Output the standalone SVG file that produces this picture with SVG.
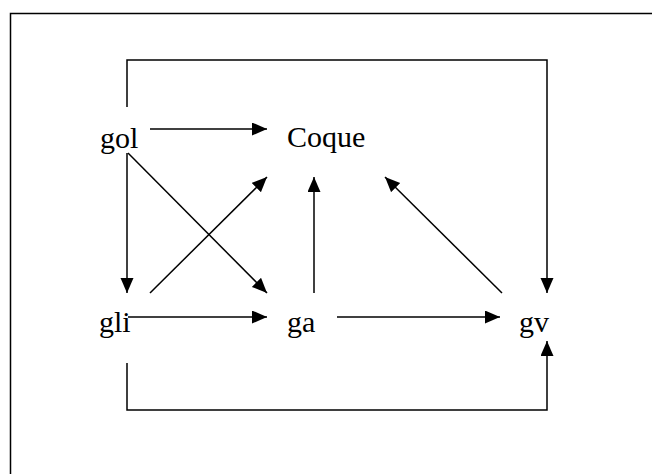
<svg xmlns="http://www.w3.org/2000/svg" width="652" height="474" viewBox="0 0 652 474">
<style>
.lbl{font-family:"Liberation Serif","Times New Roman",serif;font-size:30px;fill:#000}
.c{fill:none;stroke:#000;stroke-width:1.5}
</style>
<defs>
<marker id="ah" markerUnits="userSpaceOnUse" markerWidth="16" markerHeight="14" refX="15" refY="6.5" orient="auto">
<path d="M0,0 L15,6.5 L0,13 z" fill="#000"/>
</marker>
</defs>
<rect x="10.5" y="13.5" width="660" height="480" fill="#fff" stroke="#000" stroke-width="1.5"/>
<g id="connectors">
<line class="c" x1="150" y1="129" x2="267" y2="129" marker-end="url(#ah)"/>
<line class="c" x1="127" y1="153" x2="127" y2="293" marker-end="url(#ah)"/>
<line class="c" x1="128" y1="153" x2="267" y2="293" marker-end="url(#ah)"/>
<line class="c" x1="150" y1="293" x2="267" y2="177" marker-end="url(#ah)"/>
<line class="c" x1="314" y1="293" x2="314" y2="177" marker-end="url(#ah)"/>
<line class="c" x1="128" y1="317" x2="267" y2="317" marker-end="url(#ah)"/>
<line class="c" x1="337" y1="317" x2="500" y2="317" marker-end="url(#ah)"/>
<line class="c" x1="502" y1="293" x2="385" y2="177" marker-end="url(#ah)"/>
<polyline class="c" points="127,107 127,60 547,60 547,293" marker-end="url(#ah)"/>
<polyline class="c" points="127,363 127,410 547,410 547,341" marker-end="url(#ah)"/>
</g>
<g id="gol"><text class="lbl" x="100" y="148">gol</text></g>
<g id="coque"><text class="lbl" x="287" y="147">Coque</text></g>
<g id="gli"><text class="lbl" x="99" y="332">gli</text></g>
<g id="ga"><text class="lbl" x="287" y="332">ga</text></g>
<g id="gv"><text class="lbl" x="519" y="332">gv</text></g>
</svg>
